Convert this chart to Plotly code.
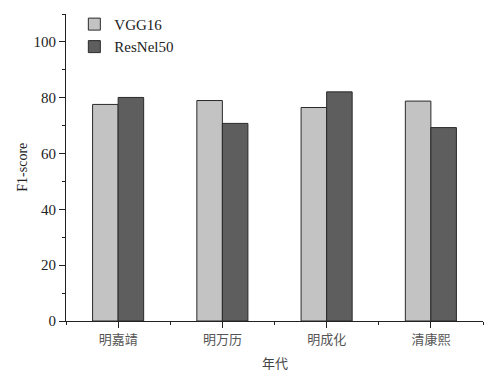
import plotly.graph_objects as go

categories = ["明嘉靖", "明万历", "明成化", "清康熙"]
vgg16 = [77.6, 79.0, 76.5, 78.8]
resnet50 = [80.1, 70.8, 82.1, 69.3]
y_ticks = [0, 20, 40, 60, 80, 100]

xpos = list(range(len(categories)))

fig = go.Figure()
fig.add_trace(go.Bar(x=xpos, y=vgg16, name="VGG16",
                     marker=dict(color="#c3c3c3", line=dict(color="#2a2a2a", width=1))))
fig.add_trace(go.Bar(x=xpos, y=resnet50, name="ResNel50",
                     marker=dict(color="#5e5e5e", line=dict(color="#2a2a2a", width=1))))

serif = "Liberation Serif, Times New Roman, serif"
cjk = "Noto Sans CJK SC"

fig.update_layout(
    width=492, height=372,
    margin=dict(l=66, r=9, t=14, b=51, autoexpand=False),
    paper_bgcolor="white", plot_bgcolor="white",
    barmode="group", bargap=0.51, bargroupgap=0,
    showlegend=True,
    legend=dict(x=0.02, y=1.02, xanchor="left", yanchor="top",
                font=dict(family=serif, size=15, color="#222"),
                bgcolor="rgba(0,0,0,0)", tracegroupgap=5,
                itemwidth=30),
    xaxis=dict(
        range=[-0.5, 3.5], tickmode="array", tickvals=xpos, ticktext=categories,
        showline=True, linecolor="#222", linewidth=1,
        ticks="outside", ticklen=6, tickcolor="#222",
        showgrid=False, zeroline=False, automargin=False,
        tickfont=dict(family=cjk, size=13, color="#555"),
        minor=dict(tickmode="array", tickvals=[-0.5, 0.5, 1.5, 2.5, 3.5],
                   ticks="outside", ticklen=3, tickcolor="#222", showgrid=False),
    ),
    yaxis=dict(
        range=[0, 110], tickmode="array", tickvals=y_ticks,
        showline=True, linecolor="#222", linewidth=1,
        ticks="outside", ticklen=6, tickcolor="#222",
        showgrid=False, zeroline=False, automargin=False,
        tickfont=dict(family=serif, size=15, color="#222"),
        minor=dict(tickmode="array", tickvals=[10, 30, 50, 70, 90, 110],
                   ticks="outside", ticklen=3, tickcolor="#222", showgrid=False),
    ),
    annotations=[
        dict(text="年代", xref="paper", yref="paper", x=0.5, y=-0.098,
             xanchor="center", yanchor="top", showarrow=False,
             font=dict(family=cjk, size=13, color="#444")),
        dict(text="F1-score", xref="paper", yref="paper", x=-0.105, y=0.5,
             xanchor="center", yanchor="middle", textangle=-90, showarrow=False,
             font=dict(family=serif, size=14, color="#222")),
    ],
)

fig.write_html("out.html", config={"displayModeBar": False},
               post_script="document.body.style.margin='0';")
